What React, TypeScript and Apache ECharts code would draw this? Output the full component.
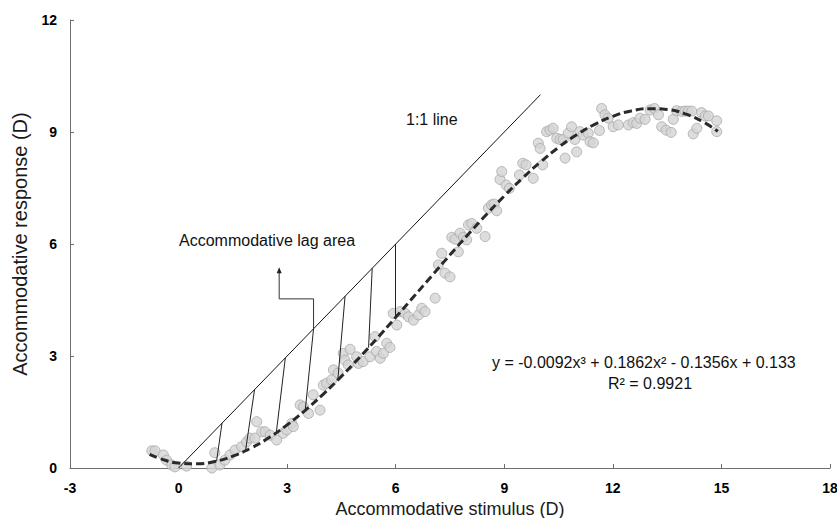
import React, { useEffect, useRef } from "react";
import * as echarts from "echarts";

// Scatter data (stimulus D, response D)
const stimulus = [
  -0.74, -0.65, -0.42, -0.33, -0.19, -0.1, 0.22, 0.92, 1.0, 1.14, 1.28, 1.42, 1.56, 1.74, 1.88, 1.97, 2.11, 2.16, 2.3, 2.39,
  2.53, 2.71, 2.89, 2.99, 3.13, 3.17, 3.36, 3.45, 3.59, 3.72, 3.91, 4.0, 4.09, 4.23, 4.28, 4.41, 4.55, 4.74, 4.6, 4.69,
  4.92, 4.97, 5.1, 5.29, 5.43, 5.47, 5.57, 5.66, 5.75, 5.84, 5.93, 6.03, 6.12, 6.26, 6.35, 6.49, 6.63, 6.72, 6.81,
  7.09, 7.18, 7.27, 7.36, 7.5, 7.55, 7.64, 7.73, 7.78, 7.87, 7.96, 8.01, 8.1, 8.24, 8.47, 8.56, 8.65, 8.72, 8.79, 8.88,
  8.93, 9.05, 9.14, 9.42, 9.51, 9.6, 9.8, 9.94, 9.99, 10.06, 10.17, 10.26, 10.35, 10.45, 10.54, 10.63, 10.68, 10.77,
  10.86, 10.95, 11.0, 11.09, 11.18, 11.32, 11.37, 11.46, 11.63, 11.69, 11.78, 11.87, 12.01, 12.15, 12.43, 12.56, 12.66,
  12.75, 12.89, 13.03, 13.15, 13.26, 13.35, 13.47, 13.61, 13.67, 13.76, 13.9, 13.99, 14.08, 14.18, 14.22, 14.32, 14.45,
  14.55, 14.64, 14.87, 14.87,
];
const response = [
  0.46, 0.46, 0.35, 0.21, 0.08, 0.03, 0.05, 0.0, 0.41, 0.08, 0.21, 0.35, 0.48, 0.57, 0.7, 0.8, 0.8, 1.24, 0.97, 0.97,
  0.88, 0.75, 0.93, 1.02, 1.2, 1.11, 1.69, 1.64, 1.46, 1.96, 1.55, 2.22, 2.27, 2.36, 2.63, 2.54, 3.07, 3.18, 2.89, 2.76,
  2.98, 2.8, 2.85, 2.98, 3.52, 3.12, 2.94, 3.07, 3.34, 3.23, 4.14, 3.83, 4.19, 4.14, 4.05, 3.96, 4.1, 4.28, 4.19,
  4.55, 5.44, 5.75, 5.22, 5.12, 6.18, 6.13, 5.79, 6.29, 6.18, 6.11, 6.51, 6.55, 6.42, 6.2, 6.96, 7.05, 7.07, 6.89, 7.73,
  7.94, 7.58, 7.49, 7.85, 8.16, 8.12, 7.76, 8.7, 8.56, 8.12, 9.01, 9.05, 9.1, 8.83, 8.8, 8.8, 8.3, 8.97,
  9.14, 8.8, 8.47, 9.01, 8.92, 8.97, 8.74, 8.71, 9.04, 9.63, 9.46, 9.37, 9.14, 9.19, 9.19, 9.25, 9.23,
  9.37, 9.34, 9.59, 9.63, 9.46, 9.14, 9.05, 8.99, 9.34, 9.57, 9.55, 9.56, 9.56, 9.56, 8.95, 9.1, 9.52,
  9.43, 9.43, 9.3, 9.01,
];

// Polynomial trend line
const fitX = [-0.8, -0.5, 0, 0.5, 1, 1.5, 2, 2.5, 3, 3.5, 4, 4.5, 5, 5.5, 6, 6.5, 7, 7.5, 8, 8.5, 9, 9.5, 10, 10.5, 11, 11.5, 12, 12.5, 13, 13.5, 14, 14.5, 14.9];
const fitY = [0.365, 0.248, 0.133, 0.111, 0.174, 0.317, 0.533, 0.814, 1.154, 1.545, 1.981, 2.455, 2.96, 3.489, 4.035, 4.592, 5.152, 5.709, 6.255, 6.783, 7.288, 7.761, 8.197, 8.588, 8.926, 9.206, 9.421, 9.563, 9.626, 9.602, 9.485, 9.268, 9.018];

// 1:1 line end points
const identityX = [0, 10];
const identityY = [0, 10];

// Lag hatch lines: top on the 1:1 line, bottom on the fit curve
const lagTopX = [1.2, 2.1, 2.95, 3.73, 4.6, 5.35, 6.0];
const lagBottomX = [1.05, 1.85, 2.7, 3.5, 4.4, 5.25, 6.0];
const lagBottomY = [0.185, 0.461, 0.943, 1.545, 2.358, 3.222, 4.035];

// Annotation arrow path (data coordinates)
const arrowX = [3.73, 3.73, 2.78, 2.78];
const arrowY = [3.73, 4.53, 4.53, 5.3];

const xTicks = { min: -3, max: 18, interval: 3 };
const yTicks = { min: 0, max: 12, interval: 3 };

const FONT = "Liberation Sans";
const AXIS_GRAY = "#6e6e6e";

export default function App() {
  const ref = useRef<HTMLDivElement>(null);
  useEffect(() => {
    if (!ref.current) return;
    const chart = echarts.init(ref.current, null, { renderer: "svg" });
    const textStyle = (text: string) => ({
      text,
      fontSize: 16,
      fontFamily: FONT,
      fill: "#111",
      verticalAlign: "middle",
      textVerticalAlign: "middle",
    });
    chart.setOption({
      animation: false,
      backgroundColor: "#fff",
      grid: { left: 70, right: 7, top: 20, bottom: 50, containLabel: false, outerBoundsMode: "none" },
      xAxis: {
        type: "value",
        position: "bottom",
        min: xTicks.min,
        max: xTicks.max,
        interval: xTicks.interval,
        splitLine: { show: false },
        axisLine: { show: true, onZero: false, lineStyle: { color: AXIS_GRAY, width: 1 } },
        axisTick: { show: true, inside: true, length: 4, lineStyle: { color: AXIS_GRAY } },
        axisLabel: { show: true, color: "#000", fontWeight: "bold", fontSize: 14, fontFamily: FONT, margin: 13 },
        name: "Accommodative stimulus (D)",
        nameLocation: "middle",
        nameGap: 30,
        nameTextStyle: { color: "#1a1a1a", fontSize: 18, fontFamily: FONT },
      },
      yAxis: {
        type: "value",
        position: "left",
        min: yTicks.min,
        max: yTicks.max,
        interval: yTicks.interval,
        splitLine: { show: false },
        axisLine: { show: true, onZero: false, lineStyle: { color: AXIS_GRAY, width: 1 } },
        axisTick: { show: true, inside: true, length: 4, lineStyle: { color: AXIS_GRAY } },
        axisLabel: { show: true, color: "#000", fontWeight: "bold", fontSize: 14, fontFamily: FONT, margin: 13 },
        name: "Accommodative response (D)",
        nameLocation: "middle",
        nameGap: 40,
        nameTextStyle: { color: "#1a1a1a", fontSize: 20, fontFamily: FONT },
      },
      series: [
        {
          type: "scatter",
          data: stimulus.map((x, i) => [x, response[i]]),
          symbolSize: 10,
          itemStyle: { color: "#d5d5d5", borderColor: "#a9a9a9", borderWidth: 1 },
          z: 2,
          // left boundary line at the x-axis minimum (acts as the y-axis line)
          markLine: {
            silent: true,
            symbol: "none",
            label: { show: false },
            lineStyle: { color: AXIS_GRAY, width: 1, type: "solid" },
            data: [{ xAxis: xTicks.min }],
          },
        },
        {
          type: "line",
          data: identityX.map((x, i) => [x, identityY[i]]),
          showSymbol: false,
          symbol: "none",
          lineStyle: { color: "#111", width: 1 },
          z: 3,
        },
        {
          type: "lines",
          coordinateSystem: "cartesian2d",
          data: lagTopX.map((x, i) => ({ coords: [[x, x], [lagBottomX[i], lagBottomY[i]]] })),
          lineStyle: { color: "#222", width: 1, opacity: 1 },
          z: 3,
        },
        {
          type: "line",
          data: arrowX.map((x, i) => [x, arrowY[i]]),
          symbol: (_v: any, p: any) => (p.dataIndex === arrowX.length - 1 ? "triangle" : "none"),
          symbolSize: [5, 6],
          showSymbol: true,
          itemStyle: { color: "#222" },
          lineStyle: { color: "#333", width: 1 },
          z: 3,
        },
        {
          type: "line",
          data: fitX.map((x, i) => [x, fitY[i]]),
          smooth: true,
          showSymbol: false,
          symbol: "none",
          lineStyle: { color: "#2a2a2a", width: 3, type: [8, 4] },
          z: 4,
        },
      ],
      graphic: [
        { type: "text", x: 179, y: 240, style: textStyle("Accommodative lag area") },
        { type: "text", x: 406, y: 119, style: textStyle("1:1 line") },
        { type: "text", x: 492, y: 362, style: textStyle("y = -0.0092x³ + 0.1862x² - 0.1356x + 0.133") },
        { type: "text", x: 608, y: 383, style: textStyle("R² = 0.9921") },
      ],
    });
    return () => chart.dispose();
  }, []);
  return (
    <div
      ref={ref}
      style={{ position: "fixed", left: 0, top: 0, width: 837, height: 518, background: "#fff" }}
    />
  );
}
